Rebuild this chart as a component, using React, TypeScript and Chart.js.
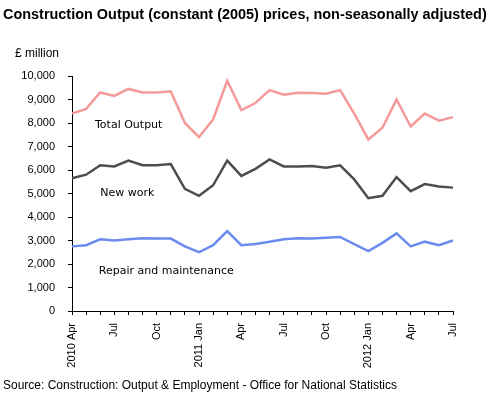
import React, { useEffect, useRef } from 'react';
import { Chart, registerables } from 'chart.js';
Chart.register(...registerables);

const categories = [
  '2010 Apr', '2010 May', '2010 Jun', '2010 Jul', '2010 Aug', '2010 Sep', '2010 Oct', '2010 Nov', '2010 Dec',
  '2011 Jan', '2011 Feb', '2011 Mar', '2011 Apr', '2011 May', '2011 Jun', '2011 Jul', '2011 Aug', '2011 Sep',
  '2011 Oct', '2011 Nov', '2011 Dec', '2012 Jan', '2012 Feb', '2012 Mar', '2012 Apr', '2012 May', '2012 Jun', '2012 Jul',
];
const tickLabels = [
  '2010 Apr', '', '', 'Jul', '', '', 'Oct', '', '',
  '2011 Jan', '', '', 'Apr', '', '', 'Jul', '', '',
  'Oct', '', '', '2012 Jan', '', '', 'Apr', '', '', 'Jul',
];
const totalOutput = [
  8400, 8600, 9300, 9150, 9450, 9300, 9300, 9350, 8000,
  7400, 8150, 9800, 8550, 8850, 9400, 9200, 9290, 9280, 9250, 9400, 8400,
  7300, 7800, 9000, 7850, 8400, 8100, 8250,
];
const newWork = [
  5650, 5800, 6200, 6150, 6400, 6200, 6200, 6250, 5200,
  4900, 5350, 6400, 5750, 6050, 6450, 6150, 6150, 6170, 6100, 6200, 5600,
  4800, 4900, 5700, 5100, 5400, 5300, 5250,
];
const repairMaintenance = [
  2750, 2800, 3050, 3000, 3050, 3100, 3080, 3080, 2750,
  2500, 2800, 3400, 2800, 2850, 2950, 3050, 3100, 3080, 3120, 3150, 2850,
  2550, 2900, 3300, 2750, 2950, 2800, 3000,
];
const seriesNames = ['Total Output', 'New work', 'Repair and maintenance'];
// label anchors in data space: [x index, y value]
const labelAnchors: [number, number][] = [[1.63, 7900], [2.0, 5020], [1.9, 1700]];

const titleText = 'Construction Output (constant (2005) prices, non-seasonally adjusted)';
const unitText = '£ million';
const sourceText = 'Source: Construction: Output & Employment - Office for National Statistics';

export default function App() {
  const ref = useRef<HTMLCanvasElement>(null);
  useEffect(() => {
    const textPlugin = {
      id: 'texts',
      afterDraw(chart: any) {
        const ctx = chart.ctx as CanvasRenderingContext2D;
        ctx.save();
        ctx.fillStyle = '#000';
        ctx.textAlign = 'left';
        ctx.textBaseline = 'alphabetic';
        let size = 15;
        ctx.font = `bold ${size}px "Liberation Sans", Arial, sans-serif`;
        const w = ctx.measureText(titleText).width;
        if (w > 484) {
          size = size * 484 / w;
          ctx.font = `bold ${size}px "Liberation Sans", Arial, sans-serif`;
        }
        ctx.fillText(titleText, 3, 19);
        ctx.font = '12px "Liberation Sans", Arial, sans-serif';
        ctx.fillText(unitText, 15, 57);
        ctx.fillText(sourceText, 3, 389);
        const xs = chart.scales.x;
        const ys = chart.scales.y;
        ctx.font = '11px "DejaVu Sans", Verdana, sans-serif';
        ctx.textBaseline = 'middle';
        seriesNames.forEach((n, i) => {
          const [ix, v] = labelAnchors[i];
          ctx.fillText(n, xs.getPixelForValue(ix), ys.getPixelForValue(v));
        });
        ctx.restore();
      },
    };
    const mk = (label: string, data: number[], color: string) => ({
      label, data, borderColor: color, backgroundColor: color,
      borderWidth: 2.5, pointRadius: 0, tension: 0, fill: false,
    });
    const chart = new Chart(ref.current as HTMLCanvasElement, {
      type: 'line',
      data: {
        labels: categories,
        datasets: [
          mk(seriesNames[0], totalOutput, '#F59A9A'),
          mk(seriesNames[1], newWork, '#4D4D4D'),
          mk(seriesNames[2], repairMaintenance, '#6A8CEE'),
        ],
      },
      options: {
        responsive: false,
        animation: false,
        devicePixelRatio: 1,
        layout: { padding: { left: 0, top: 76, right: 39, bottom: 0 } },
        plugins: { legend: { display: false }, tooltip: { enabled: false }, title: { display: false } },
        scales: {
          x: {
            type: 'category',
            offset: false,
            afterFit: (s: any) => { s.height = 86; },
            grid: { display: true, drawOnChartArea: false, drawTicks: true, tickLength: 4, color: '#000' },
            border: { display: true, color: '#000', width: 1 },
            ticks: {
              autoSkip: false, maxRotation: 90, minRotation: 90, padding: 8,
              color: '#000', font: { family: '"Liberation Sans", Arial, sans-serif', size: 11 },
              callback: (_v: any, i: number) => tickLabels[i],
            },
          },
          y: {
            min: 0, max: 10000,
            afterFit: (s: any) => { s.width = 72; },
            grid: { display: true, drawOnChartArea: false, drawTicks: true, tickLength: 4, color: '#000' },
            border: { display: true, color: '#000', width: 1 },
            ticks: {
              stepSize: 1000, padding: 13, color: '#000',
              font: { family: '"Liberation Sans", Arial, sans-serif', size: 11 },
              callback: (v: any) => Number(v).toLocaleString('en-GB'),
            },
          },
        },
      },
      plugins: [textPlugin],
    } as any);
    return () => chart.destroy();
  }, []);
  return (
    <div style={{ position: 'absolute', left: 0, top: 0, width: 492, height: 397, background: '#fff' }}>
      <canvas ref={ref} width={492} height={397} style={{ display: 'block' }} />
    </div>
  );
}
